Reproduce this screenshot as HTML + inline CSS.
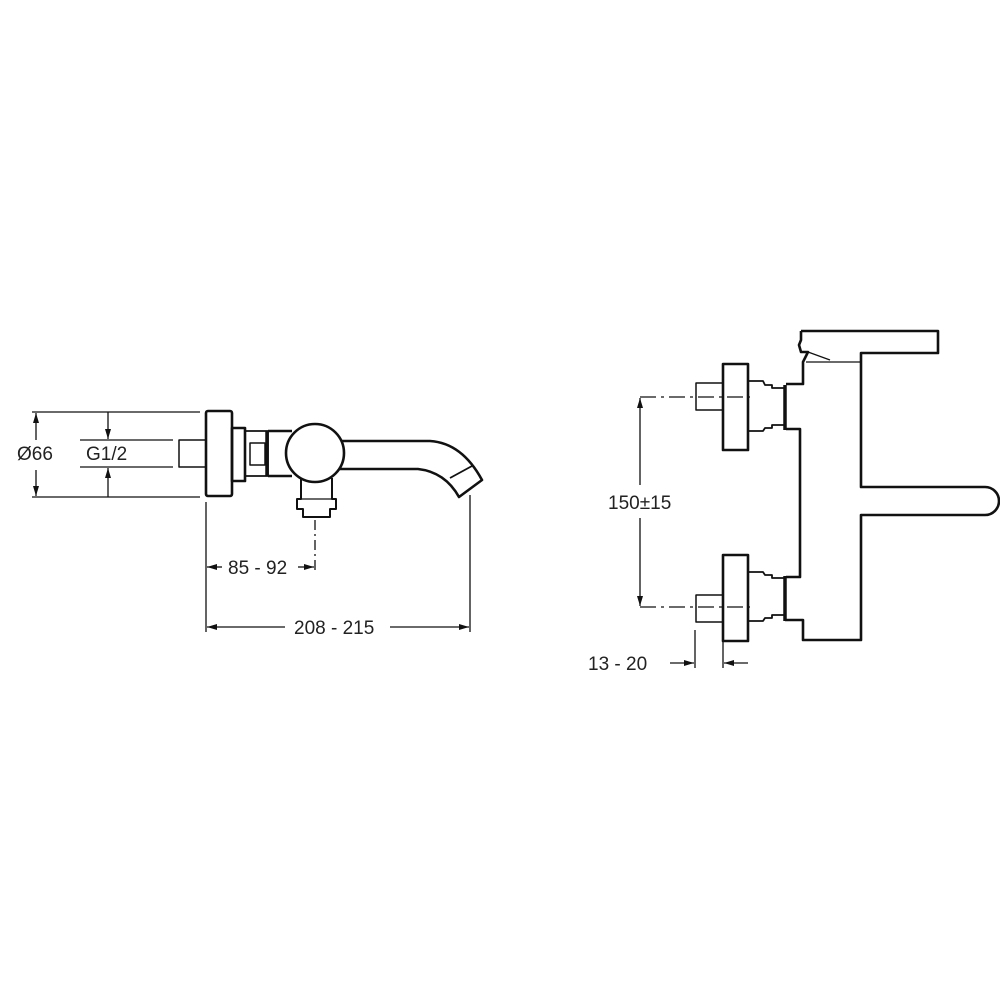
<!DOCTYPE html>
<html><head><meta charset="utf-8"><style>
html,body{margin:0;padding:0;background:#fff;}
svg{display:block;}
text{font-family:"Liberation Sans",sans-serif;font-size:19px;fill:#222;}
</style></head><body>
<svg width="1000" height="1000" viewBox="0 0 1000 1000" xmlns="http://www.w3.org/2000/svg">
<defs>
<marker id="a" markerWidth="10" markerHeight="6" refX="10" refY="3" orient="auto" markerUnits="userSpaceOnUse"><path d="M0,0 L10,3 L0,6 Z" fill="#111"/></marker>
</defs>
<g fill="none" stroke="#111" stroke-width="1.3">
<line x1="32" y1="412" x2="200" y2="412"/>
<line x1="32" y1="497" x2="200" y2="497"/>
<line x1="36" y1="440" x2="36" y2="413" marker-end="url(#a)"/>
<line x1="36" y1="470" x2="36" y2="496" marker-end="url(#a)"/>
<line x1="108" y1="412" x2="108" y2="439" marker-end="url(#a)"/>
<line x1="108" y1="497" x2="108" y2="468" marker-end="url(#a)"/>
<line x1="80" y1="440" x2="173" y2="440"/>
<line x1="80" y1="467" x2="173" y2="467"/>
<line x1="206" y1="502" x2="206" y2="632"/>
<line x1="470" y1="495" x2="470" y2="632"/>
<line x1="222" y1="567" x2="207" y2="567" marker-end="url(#a)"/>
<line x1="298" y1="567" x2="314" y2="567" marker-end="url(#a)"/>
<line x1="315" y1="520" x2="315" y2="570" stroke-dasharray="10,4,2,4"/>
<line x1="285" y1="627" x2="207" y2="627" marker-end="url(#a)"/>
<line x1="390" y1="627" x2="469" y2="627" marker-end="url(#a)"/>
</g>
<g fill="none" stroke="#111" stroke-width="2.6" stroke-linejoin="round">
<rect x="179" y="440" width="27" height="27" stroke-width="1.5"/>
<rect x="206" y="411" width="26" height="85" rx="2"/>
<rect x="232" y="428" width="13" height="53"/>
<rect x="245" y="431" width="23" height="45" stroke-width="1.8"/>
<rect x="250" y="443" width="15" height="22" stroke-width="1.5"/>
<line x1="267" y1="431" x2="267" y2="476" stroke-width="3.5"/>
<path d="M268,431 L292,431 M268,476 L292,476"/>
<path d="M342,441 L430,441 Q462,443 482,480 L459,497 Q445,472 418,469 L340,469"/>
<line x1="450" y1="478" x2="472" y2="466" stroke-width="1.8"/>
<path d="M301,478 L301,499 L297,499 L297,509 L303,509 L303,517 L330,517 L330,509 L336,509 L336,499 L332,499 L332,478" stroke-width="2"/>
<line x1="301" y1="499" x2="332" y2="499" stroke-width="1.3"/>
<circle cx="315" cy="453" r="29" fill="#fff"/>
</g>
<text x="17" y="460">Ø66</text>
<text x="86" y="460">G1/2</text>
<text x="228" y="574">85 - 92</text>
<text x="294" y="634">208 - 215</text>

<g fill="none" stroke="#111" stroke-width="1.3">
<line x1="640" y1="397" x2="750" y2="397" stroke-dasharray="16,5,3,5"/>
<line x1="640" y1="607" x2="750" y2="607" stroke-dasharray="16,5,3,5"/>
<line x1="640" y1="485" x2="640" y2="398" marker-end="url(#a)"/>
<line x1="640" y1="518" x2="640" y2="606" marker-end="url(#a)"/>
<line x1="695" y1="630" x2="695" y2="668"/>
<line x1="723" y1="630" x2="723" y2="668"/>
<line x1="670" y1="663" x2="694" y2="663" marker-end="url(#a)"/>
<line x1="748" y1="663" x2="724" y2="663" marker-end="url(#a)"/>
<line x1="806" y1="362" x2="861" y2="362"/>
<path d="M808,352 L830,360"/>
</g>
<g fill="none" stroke="#111" stroke-width="2.6" stroke-linejoin="round">
<path d="M801,331 L938,331 L938,353 L861,353 L861,487 L985,487 A14,14 0 0 1 985,515 L861,515 L861,640 L803,640 L803,620 L785,620"/>
<path d="M801,331 L801,340 L799,345 L801,352 L808,352 L803,362 L803,384 L786,384"/>
<path d="M786,429 L800,429 L800,577 L786,577"/>
<rect x="696" y="383" width="27" height="27" stroke-width="1.5"/>
<rect x="723" y="364" width="25" height="86"/>
<path d="M748,381 L763,381 L765,385 L772,385 L772,388 L785,388 L785,425 L772,425 L772,428 L765,428 L763,431 L748,431" stroke-width="1.8"/>
<line x1="785" y1="385" x2="785" y2="430" stroke-width="3.5"/>
<rect x="696" y="595" width="27" height="27" stroke-width="1.5"/>
<rect x="723" y="555" width="25" height="86"/>
<path d="M748,572 L763,572 L765,575 L772,575 L772,578 L785,578 L785,615 L772,615 L772,618 L765,618 L763,621 L748,621" stroke-width="1.8"/>
<line x1="785" y1="576" x2="785" y2="621" stroke-width="3.5"/>
</g>
<text x="608" y="509">150±15</text>
<text x="588" y="670">13 - 20</text>
</svg>
</body></html>
